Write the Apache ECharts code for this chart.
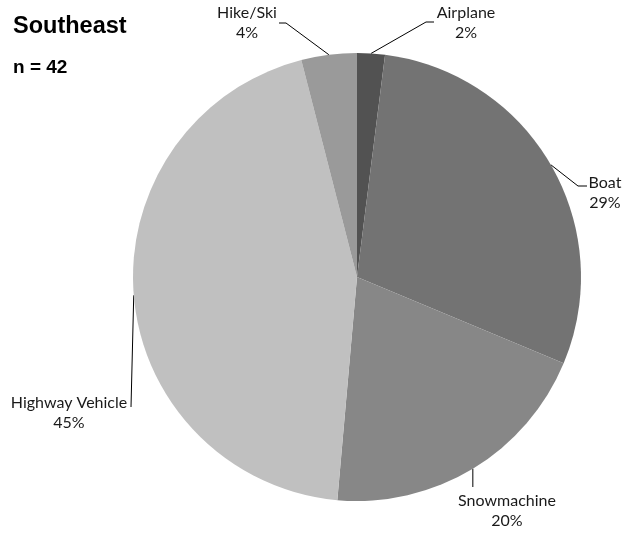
<!DOCTYPE html>
<html>
<head>
<meta charset="utf-8">
<script src="https://cdn.jsdelivr.net/npm/echarts@6/dist/echarts.min.js"></script>
<style>
  html, body { margin: 0; padding: 0; background: #fff; }
  #main { width: 634px; height: 533px; }
</style>
</head>
<body>
<div id="main"></div>
<script>
// values (percent of n = 42)
let categories = ["Airplane", "Boat", "Snowmachine", "Highway Vehicle", "Hike/Ski"];
let percents = [2.0, 29.3, 20.1, 44.6, 4.0];
let sliceColors = ["#525252", "#737373", "#878787", "#c0c0c0", "#9a9a9a"];

// where each label sits and where its leader line bends
let labelSpots = {
    "Airplane": { x: 466, y: 23, bend: [426, 22], end: [434, 22] },
    "Boat": { x: 605, y: 193, bend: [578, 186], end: [587, 186] },
    "Snowmachine": { x: 507, y: 511, bend: null, end: [472, 487] },
    "Highway Vehicle": { x: 69, y: 413, bend: [131, 407], end: [131, 407] },
    "Hike/Ski": { x: 247, y: 23, bend: [286, 23], end: [279, 23] }
};

let pieData = [];
for (let i = 0; i < categories.length; i = i + 1) {
    pieData.push({
        name: categories[i],
        value: percents[i],
        itemStyle: { color: sliceColors[i] }
    });
}

let myChart = echarts.init(document.getElementById("main"));

let option = {
    animation: false,
    title: [
        {
            text: "Southeast",
            left: 8,
            top: 10,
            textStyle: { fontFamily: "Liberation Sans", fontWeight: "bold", fontSize: 23.5, color: "#000" }
        },
        {
            text: "n = 42",
            left: 8,
            top: 53,
            textStyle: { fontFamily: "Liberation Sans", fontWeight: "bold", fontSize: 19, color: "#000" }
        }
    ],
    series: [
        {
            type: "pie",
            center: [357, 277],
            radius: 224,
            startAngle: 90,
            clockwise: true,
            data: pieData,
            itemStyle: { borderWidth: 0 },
            emphasis: { disabled: true },
            label: {
                show: true,
                position: "outside",
                formatter: function (p) {
                    return p.name + "\n" + Math.round(p.value) + "%";
                },
                fontFamily: "Lato",
                fontSize: 16,
                lineHeight: 20,
                color: "#1a1a1a",
                align: "center",
                overflow: "none",
                width: 160
            },
            labelLine: {
                show: true,
                length: 10,
                length2: 10,
                lineStyle: { color: "#000", width: 1 }
            },
            labelLayout: function (params) {
                let spot = labelSpots[categories[params.dataIndex]];
                let start = params.labelLinePoints[0];
                let bend = spot.bend ? spot.bend : [start[0], start[1]];
                let end = spot.end;
                if (!spot.bend) {
                    end = [start[0], spot.end[1]];
                }
                return {
                    x: spot.x,
                    y: spot.y,
                    align: "center",
                    verticalAlign: "middle",
                    labelLinePoints: [start, bend, end]
                };
            }
        }
    ]
};

myChart.setOption(option);
</script>
</body>
</html>
